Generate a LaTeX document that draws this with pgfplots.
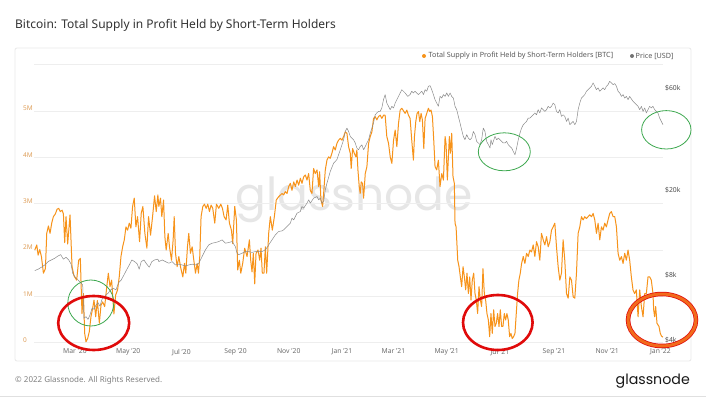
\documentclass[border=0pt]{standalone}
\usepackage{fontspec}
\setmainfont{Noto Sans}
\newfontfamily\logofont{Poppins}
\usepackage{pgfplots}
\usepackage{pgfplotstable}
\pgfplotsset{compat=1.18}
\definecolor{btc}{HTML}{F7931A}
\definecolor{pricegray}{HTML}{8A8A8A}
\definecolor{gridgray}{HTML}{EEEEEE}
\definecolor{labelorange}{HTML}{DFA05C}
\definecolor{textgray}{HTML}{6E6E6E}
\definecolor{cardborder}{HTML}{E9E9E9}
\definecolor{annred}{HTML}{E00B0B}
\definecolor{anngreen}{HTML}{3DA84F}
\definecolor{annorange}{HTML}{F26A1B}
\definecolor{wmgray}{HTML}{E6E6E6}

\pgfplotstableread{
day val
13.9 2.00
16.2 2.11
17.7 1.89
19.6 2.01
21.5 1.86
23.8 1.50
26.1 1.60
27.6 2.36
29.5 2.52
31.4 2.36
33.3 2.58
35.2 2.72
37.5 2.78
39.4 2.88
41.3 2.90
43.2 2.83
45.2 2.86
46.7 2.78
48.2 2.16
49.7 2.72
51.6 2.13
54.3 2.76
56.6 1.64
58.9 1.44
61.9 1.35
64.2 1.78
66.1 1.82
68.0 0.63
69.6 1.06
71.1 0.20
72.6 0.02
74.5 0.09
76.4 0.24
78.3 0.56
80.2 0.74
81.8 0.92
83.7 0.56
85.6 0.91
87.9 0.42
89.8 0.81
91.7 0.88
94.0 0.78
96.3 1.19
98.2 1.50
100.1 1.21
102.0 1.35
104.6 0.62
106.6 1.03
108.8 1.14
110.7 1.42
112.7 1.86
114.6 2.07
116.5 2.22
118.4 2.50
120.3 2.43
122.2 2.58
124.1 2.47
126.0 2.94
127.9 3.12
129.8 2.50
131.7 2.72
134.0 2.18
135.9 2.79
137.8 2.94
140.1 2.36
142.4 2.04
144.3 2.72
146.6 2.32
148.9 2.72
151.2 3.17
153.1 2.83
155.0 3.19
156.1 2.94
158.0 3.12
159.5 2.72
161.5 3.08
163.0 2.29
164.5 2.00
166.8 2.36
168.3 2.07
170.6 1.78
172.5 2.22
173.7 2.72
175.2 1.93
177.1 1.64
179.0 1.86
180.9 1.64
183.6 1.42
185.5 1.71
187.0 1.50
188.9 2.07
190.4 2.36
192.3 1.93
194.3 2.07
196.2 1.78
198.1 1.50
200.0 1.71
201.5 1.50
203.0 1.86
204.5 2.72
206.5 2.94
208.4 2.99
210.3 2.90
212.2 2.99
214.1 2.83
216.0 2.97
217.9 2.90
220.2 2.58
222.1 2.99
224.8 2.90
227.1 2.99
229.0 2.90
230.9 2.72
233.2 2.65
235.1 2.97
237.0 2.58
239.3 2.43
240.8 2.14
243.1 2.94
245.0 2.65
246.5 1.57
248.4 1.78
250.0 1.50
252.2 1.71
254.5 2.04
257.2 1.86
259.9 2.22
261.4 1.78
262.9 1.53
264.4 1.93
266.0 1.27
267.5 1.93
269.8 2.00
271.7 1.78
273.2 2.04
274.7 1.50
276.6 1.50
278.2 2.07
279.7 1.50
282.0 2.36
283.9 2.72
286.2 2.43
288.5 2.72
290.7 3.08
293.4 3.15
297.3 3.22
299.2 3.19
301.1 3.26
303.0 3.22
305.0 3.37
306.8 3.44
308.7 3.29
310.7 3.47
312.6 3.37
314.5 3.51
316.4 3.40
318.3 3.55
320.2 3.44
322.1 3.58
324.0 3.62
325.9 3.51
327.8 3.65
329.7 3.29
331.6 3.22
333.5 3.76
335.4 3.65
337.4 3.73
339.3 3.37
340.4 3.69
341.9 3.08
343.8 2.94
345.0 3.22
346.9 3.73
348.8 3.94
350.7 4.01
352.6 3.98
354.5 4.09
356.4 4.23
358.3 4.16
360.2 4.30
362.1 4.37
364.1 4.41
366.0 4.37
367.9 4.45
369.8 4.55
371.7 4.52
373.6 4.23
375.5 4.09
376.6 3.76
378.2 4.19
380.1 4.09
382.0 4.01
383.1 4.16
384.3 3.73
385.8 3.37
386.9 3.22
388.1 3.47
389.6 3.44
390.8 3.12
392.7 3.65
394.6 3.80
396.5 4.30
398.4 4.45
400.3 4.55
402.2 4.84
404.1 4.88
406.0 4.81
407.9 4.88
409.8 4.91
411.7 4.84
413.6 4.91
415.5 4.91
417.4 4.45
419.4 4.30
421.3 4.01
423.2 3.87
425.1 4.37
427.0 4.59
428.9 4.23
430.8 4.73
432.7 5.02
434.6 5.06
438.4 4.95
440.3 5.02
442.2 4.91
444.1 4.84
446.0 4.37
447.9 3.94
449.1 4.45
450.6 4.77
452.1 4.95
453.7 4.99
455.2 4.77
456.7 4.95
458.2 4.81
459.8 4.19
461.3 4.84
463.2 4.95
465.1 5.06
466.6 4.99
468.1 5.02
469.7 4.88
471.2 4.37
472.7 3.80
474.6 3.73
476.5 3.94
478.4 3.37
480.4 3.65
482.3 3.51
484.2 4.45
485.3 4.30
486.8 3.51
488.0 4.01
489.1 4.45
490.3 4.09
491.8 4.52
493.3 3.58
494.8 3.44
495.6 2.58
496.8 2.50
498.7 1.78
500.2 1.64
501.7 1.42
503.2 1.21
504.8 1.64
506.3 1.42
507.8 1.14
509.3 1.50
510.9 1.06
512.4 1.42
513.9 0.92
515.4 1.35
517.0 1.50
518.5 1.06
520.0 0.92
521.5 0.63
523.1 1.21
524.6 0.92
526.1 0.78
527.6 1.60
529.2 1.06
530.7 0.92
532.2 0.63
533.8 0.49
535.3 0.13
536.8 0.63
538.3 0.20
539.9 0.71
541.4 0.35
542.9 0.42
544.4 0.63
546.0 0.35
547.5 0.71
549.0 0.35
550.5 0.35
552.1 0.63
553.6 0.49
555.1 0.63
556.6 0.49
558.2 0.13
559.7 0.20
561.2 0.09
562.7 0.13
564.3 0.20
565.8 0.63
567.3 1.06
568.8 1.35
570.4 1.50
571.9 1.71
573.8 1.86
575.7 1.71
577.6 1.93
579.5 1.86
581.4 2.00
583.3 1.96
585.2 2.11
587.1 1.86
589.0 2.18
590.9 2.07
592.8 1.78
594.7 2.36
596.7 2.22
598.6 2.11
600.5 2.29
602.4 2.07
604.3 2.18
606.2 2.43
608.1 2.50
610.0 2.58
611.9 2.07
613.8 1.64
615.7 1.35
617.6 1.50
619.5 2.22
621.4 1.78
623.4 1.06
625.3 0.96
627.2 1.42
629.1 1.35
631.0 0.99
632.9 0.96
634.8 1.50
636.7 2.36
638.6 2.50
640.5 2.72
642.4 2.65
644.3 2.72
646.2 2.68
648.1 2.72
650.1 2.76
652.0 2.72
653.9 2.79
655.8 2.65
657.7 2.36
659.6 2.58
661.5 2.22
663.4 2.50
665.3 2.43
667.2 2.58
669.1 2.50
671.0 2.65
672.9 2.79
674.8 2.83
676.8 2.72
678.7 2.72
680.6 2.50
682.5 1.93
684.4 1.78
686.3 1.86
688.2 1.71
690.1 1.93
692.0 1.78
693.9 2.00
695.8 1.78
697.7 1.42
699.6 1.14
701.5 1.06
703.4 1.14
705.4 0.56
707.3 1.14
709.2 0.78
711.1 0.56
713.0 1.06
714.9 1.06
716.8 1.42
718.7 1.42
720.6 1.35
722.5 1.06
723.3 0.71
724.4 0.56
725.6 0.78
727.1 0.42
729.4 0.35
730.9 0.20
732.4 0.14
734.0 0.12
}\supplytable

\pgfplotstableread{
day price
13.9 8680
17.7 8810
21.5 9000
25.3 9220
29.1 9560
32.9 9730
36.8 9910
40.6 10160
43.6 10300
46.7 9810
49.7 10020
52.8 9730
55.4 9330
57.4 8430
60.4 8080
63.5 7850
66.5 7630
68.8 7440
70.3 5200
72.6 5290
74.9 5140
77.2 5390
79.5 5790
81.8 5730
84.1 6000
86.3 6150
88.6 5930
90.9 6370
93.2 6510
95.5 6680
97.8 6800
100.8 7050
103.9 7180
106.9 7050
110.0 7630
113.0 7850
116.1 8280
119.1 8740
122.2 9220
125.2 9730
128.3 9560
131.3 9330
133.6 8810
135.9 9560
139.0 9730
142.0 9330
145.1 9000
148.1 9560
151.2 9730
155.0 9810
156.1 9560
159.9 9730
163.7 9560
167.6 9390
171.4 9560
175.2 9220
179.0 9300
182.8 9220
186.6 9130
190.4 9220
194.3 9300
198.1 9220
201.9 9390
205.7 10090
209.5 10840
213.3 11440
217.1 11650
221.0 11730
224.8 11860
228.6 12070
232.4 11650
236.2 11730
240.0 11860
243.8 11240
245.7 10460
247.7 10300
251.5 10460
255.3 10650
259.1 10650
262.9 10550
266.7 10650
270.5 10650
274.3 10650
278.2 10840
282.0 11440
285.8 12070
289.6 12740
293.4 13210
297.3 13300
299.2 13450
303.0 13940
306.8 14440
308.7 15240
310.7 14970
314.5 16090
318.3 16380
320.2 17280
322.1 16970
325.9 17910
327.8 18570
329.7 17910
333.5 18900
337.4 19240
339.3 18570
341.2 18900
343.1 17910
345.0 18240
346.9 20680
348.8 22200
352.6 25200
356.4 27500
360.2 28600
364.1 31800
367.9 35400
369.8 38700
371.7 40100
373.6 38700
375.5 36700
377.4 36000
379.3 35400
381.2 34200
383.1 32400
385.0 31800
386.9 32900
388.8 33500
390.8 31800
392.7 32900
394.6 34200
396.5 35400
398.4 38000
400.3 40100
402.2 42400
404.1 46300
406.0 47200
407.9 48000
409.8 48000
411.7 49800
413.6 54400
415.5 57500
417.4 52500
419.4 50700
421.3 48900
423.2 50700
425.1 49800
427.0 52500
428.9 54400
430.8 56400
432.7 58500
434.6 60600
438.4 58500
441.4 56400
444.1 57500
446.0 59600
447.9 58500
449.8 59600
451.7 58500
453.7 57500
455.6 58500
457.5 59600
459.4 57500
461.3 60600
463.2 59600
465.1 62900
467.0 63300
468.9 60600
470.8 57500
472.7 54400
474.6 52500
476.5 50700
478.4 56400
480.4 55400
482.3 57500
484.2 56400
486.1 58500
488.0 56400
489.9 58500
491.8 56400
493.7 55400
495.6 50700
497.5 48900
499.4 45500
501.3 42400
503.2 39400
505.1 36700
507.0 35400
509.0 37400
510.9 36000
512.8 35400
514.7 36000
516.6 38700
518.5 37400
520.4 34800
522.3 34200
524.2 33600
526.1 35400
528.0 40100
529.9 38700
531.8 34800
533.8 33600
535.7 32400
536.8 35400
538.3 33600
539.5 34800
541.4 36700
543.3 35400
545.2 36000
547.1 35400
549.0 34800
550.9 34200
552.8 34200
554.7 34800
556.6 33600
558.6 32900
560.5 32400
562.4 31200
564.3 30100
566.2 32400
568.1 35400
570.0 38000
571.9 40100
573.8 41600
575.7 42400
577.6 43100
579.5 44700
581.4 44700
583.3 45500
585.2 46300
587.1 47200
589.0 46300
590.9 48900
592.8 47200
594.7 49800
596.7 48900
598.6 48000
600.5 48900
602.4 50700
604.3 49800
606.2 50700
608.1 52500
610.0 51600
611.9 48000
613.8 47200
615.7 48900
617.6 45500
619.5 46300
621.4 45500
623.4 43100
625.3 44700
627.2 41600
629.1 42400
631.0 43100
632.9 41600
634.8 43100
636.7 48900
638.6 52500
640.5 55400
642.4 56400
644.3 57500
646.2 59600
648.1 60600
650.1 61800
652.0 62900
653.9 65200
655.8 62900
657.7 60600
659.6 61800
661.5 59600
663.4 60600
665.3 61800
667.2 60600
669.1 62900
671.0 64000
672.9 66300
674.8 65200
676.8 64000
678.7 64700
680.6 62900
682.5 59600
684.4 58500
686.3 56400
688.2 57500
690.1 55400
692.0 56400
693.9 54400
695.8 56400
699.6 53500
703.4 51600
705.4 50700
707.3 48900
709.2 50700
711.1 48000
713.0 49800
714.9 47200
716.8 48900
718.7 50700
720.6 49800
722.5 50700
724.4 48900
726.3 48000
728.2 47200
730.1 44700
732.1 43100
734.0 41600
}\pricetable

\begin{document}
\begin{tikzpicture}[x=1pt,y=1pt]
\useasboundingbox (0,0) rectangle (706,397);
\fill[white] (0,0) rectangle (706,397);
% card
\draw[cardborder, line width=0.8pt, rounded corners=2pt] (15,36) rectangle (691,349);
\draw[black!12, line width=1pt] (0,0.5) -- (706,0.5);
% title
\node[anchor=west, inner sep=0pt, text=black!80, font=\fontsize{12}{14}\selectfont] at (15,372) {Bitcoin: Total Supply in Profit Held by Short-Term Holders};
% watermark
\node[inner sep=0pt, text=wmgray, font=\logofont\fontsize{45.5}{50}\selectfont] at (354,197) {glassnode};

\begin{axis}[
  at={(34pt,54.3pt)}, anchor=south west,
  scale only axis, width=629pt, height=278pt,
  xmin=13, xmax=734, ymin=0, ymax=6,
  axis line style={draw=none},
  major tick length=0pt,
  ytick={0,1,2,3,4,5,6}, yticklabels={0,1M,2M,3M,4M,5M,{}},
  ymajorgrids, major grid style={gridgray, line width=0.6pt},
  xtick={60,121,182,244,305,366,425,486,547,609,670,731},
  xticklabels={Mar '20,May '20,Jul '20,Sep '20,Nov '20,Jan '21,Mar '21,May '21,Jul '21,Sep '21,Nov '21,Jan '22},
  xticklabel style={font=\fontsize{6.8}{7}\selectfont, text=textgray, anchor=north, inner sep=0pt, yshift=-6pt},
  yticklabel style={font=\fontsize{6.5}{7}\selectfont, text=labelorange, anchor=south west, inner sep=0pt, xshift=-11pt},
]
\addplot[btc, line width=1.0pt, line join=round] table[x=day,y=val]{\supplytable};
\end{axis}

\begin{axis}[
  at={(34pt,54.3pt)}, anchor=south west,
  scale only axis, width=629pt, height=278pt,
  xmin=13, xmax=734, ymode=log, ymin=4000, ymax=79300,
  hide x axis,
  axis y line*=right,
  axis line style={draw=none},
  major tick length=0pt, minor tick length=0pt,
  ytick={4000,8000,20000,60000}, yticklabels={\$4k,\$8k,\$20k,\$60k},
  yticklabel style={font=\fontsize{6.8}{7}\selectfont, text=black!70, anchor=south west, inner sep=0pt, xshift=2pt},
]
\addplot[pricegray, line width=0.5pt, line join=round] table[x=day,y=price]{\pricetable};
\end{axis}

% legend
\fill[btc] (424,341) circle (2pt);
\node[anchor=west, inner sep=0pt, text=black!65, font=\fontsize{7.2}{8}\selectfont] at (428.5,341) {Total Supply in Profit Held by Short-Term Holders [BTC]};
\fill[black!55] (632,341) circle (2pt);
\node[anchor=west, inner sep=0pt, text=black!65, font=\fontsize{7.2}{8}\selectfont] at (635.5,341) {Price [USD]};

% footer
\node[anchor=west, inner sep=0pt, text=black!50, font=\fontsize{8}{9}\selectfont] at (15,17) {© 2022 Glassnode. All Rights Reserved.};
\node[anchor=base east, inner sep=0pt, text=black!90, font=\logofont\fontsize{14.2}{16}\selectfont] at (690,13) {glassnode};

% annotations
\draw[anngreen, line width=0.8pt] (90.8,94) ellipse [x radius=23, y radius=23];
\draw[annred, line width=2.6pt] (93.7,74) ellipse [x radius=35.5, y radius=27];
\draw[anngreen, line width=0.8pt] (504.3,245.2) ellipse [x radius=26, y radius=19];
\draw[annred, line width=2.6pt] (497.8,74.5) ellipse [x radius=34.8, y radius=27.5];
\draw[anngreen, line width=0.8pt] (666.3,267.2) ellipse [x radius=24.7, y radius=19.2];
\draw[annred, line width=4.5pt] (662,77) ellipse [x radius=34, y radius=26];
\draw[annorange, line width=3pt] (662,77) ellipse [x radius=34, y radius=26];
\end{tikzpicture}
\end{document}
